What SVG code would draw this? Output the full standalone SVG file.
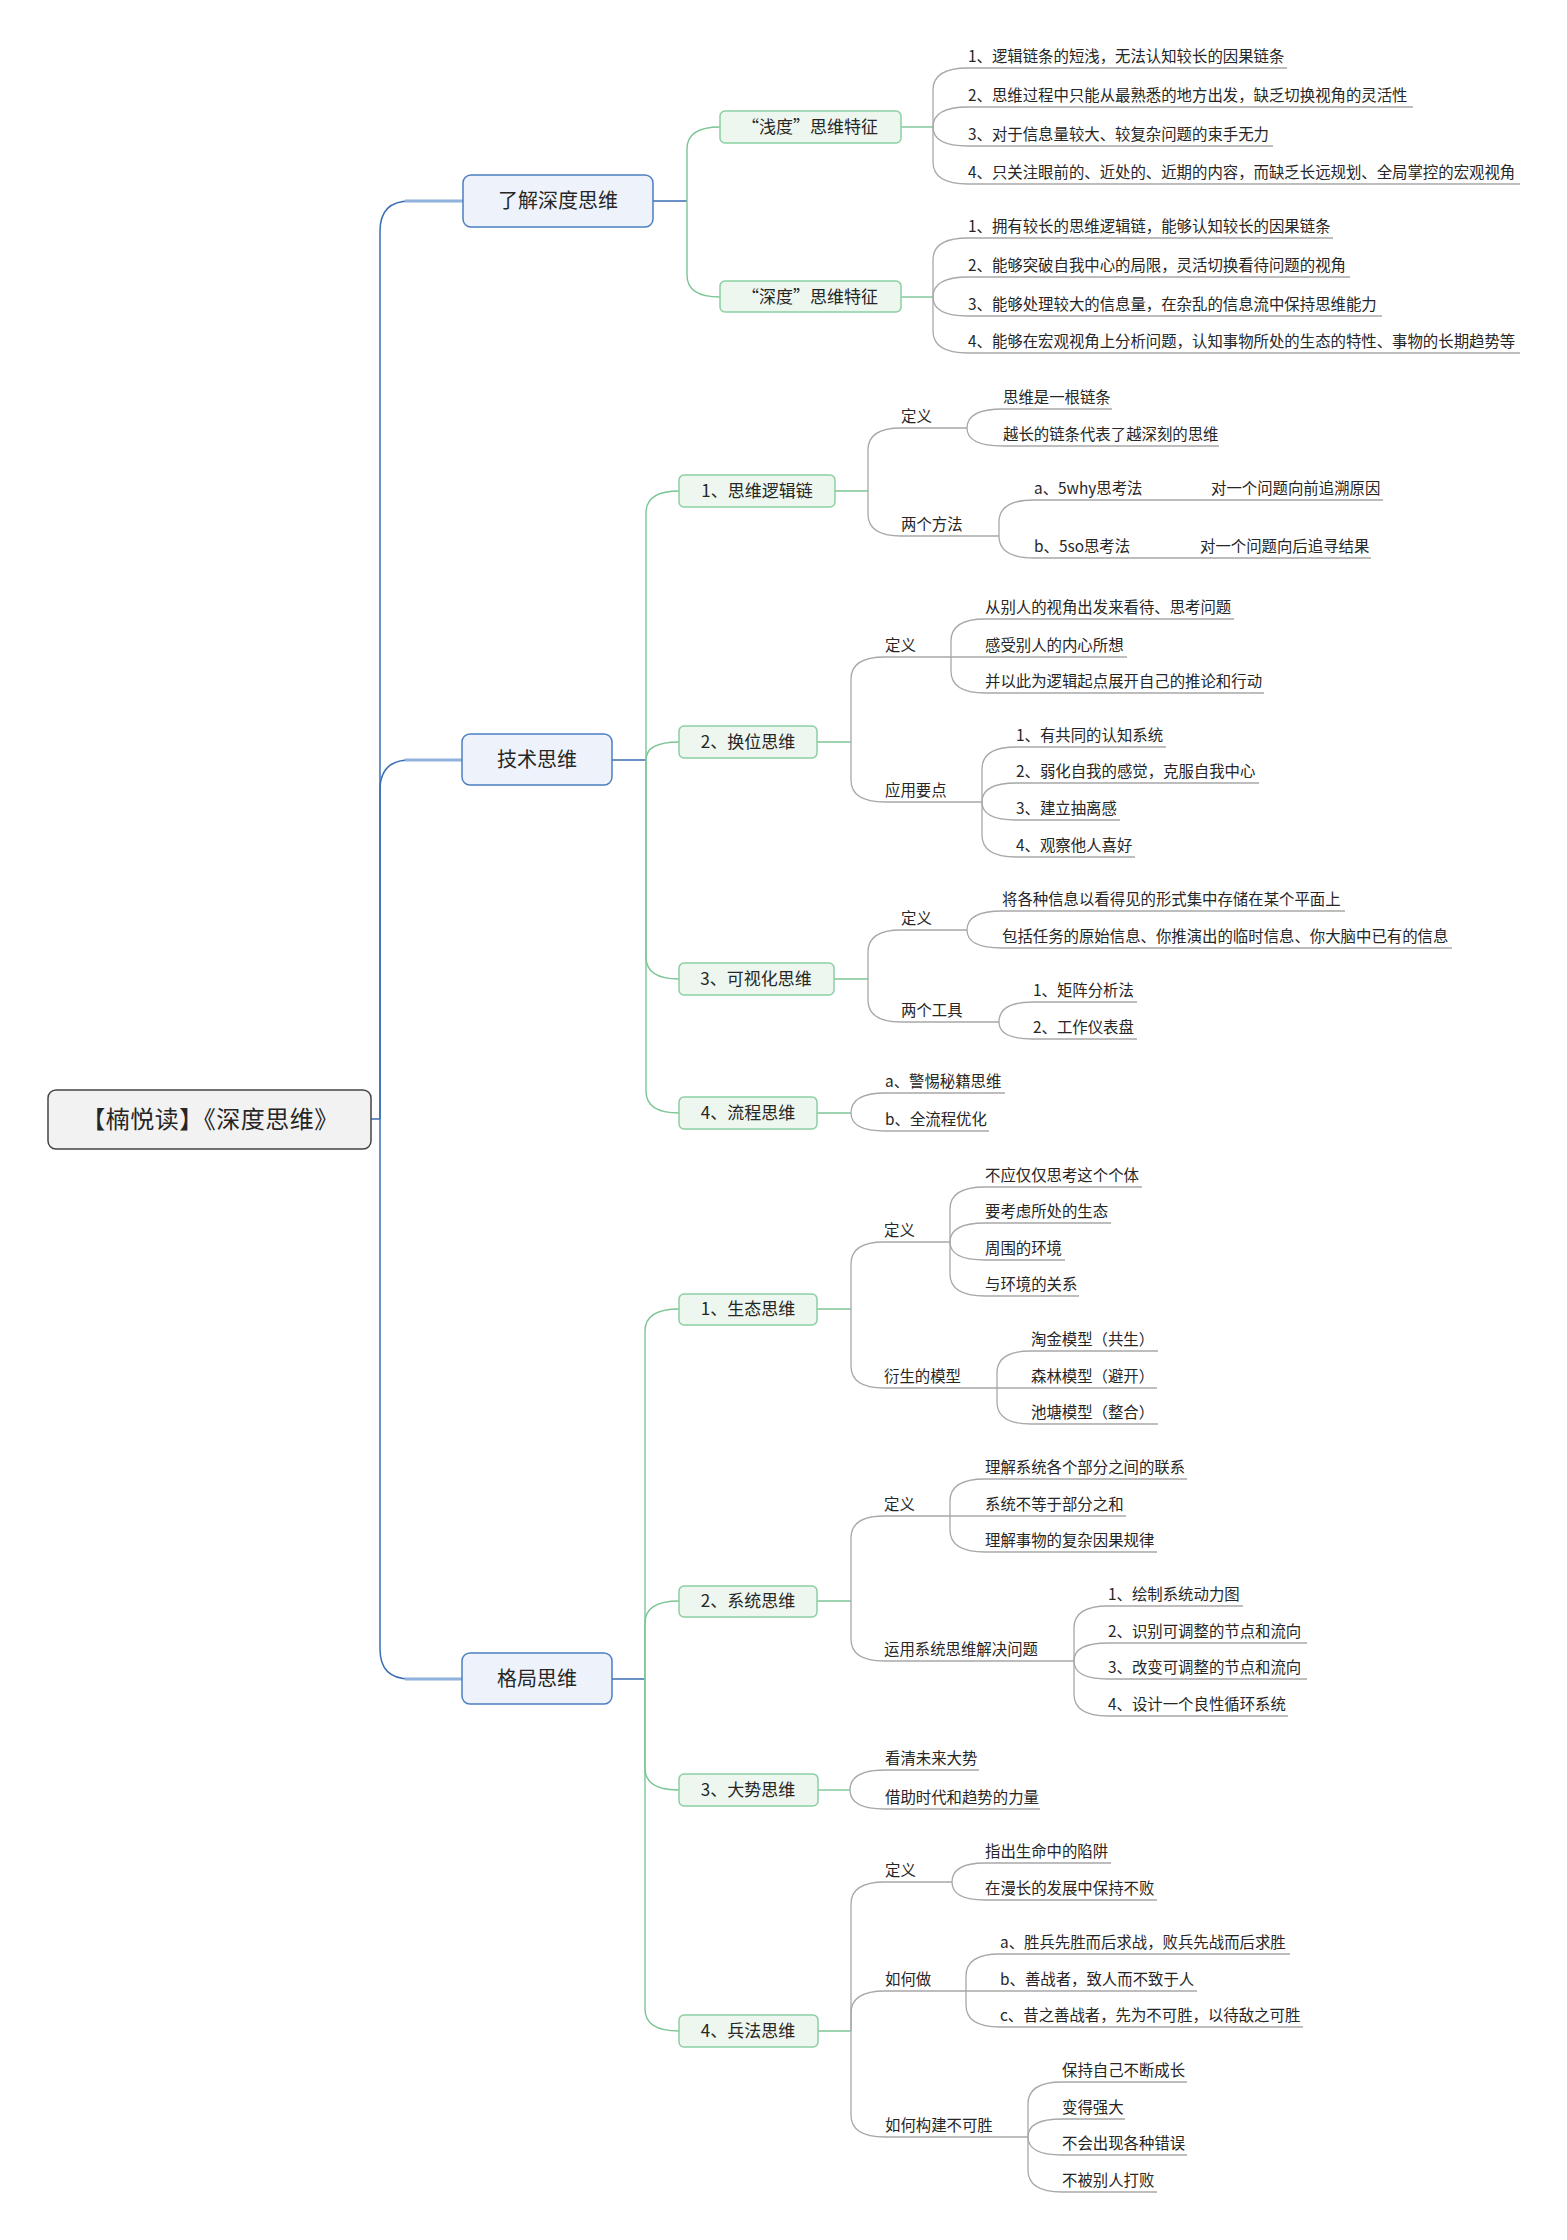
<svg xmlns="http://www.w3.org/2000/svg" width="1567" height="2240" viewBox="0 0 1567 2240">
<style>
text{font-family:"Noto Sans CJK SC","Noto Sans",sans-serif;fill:#262626}
.t0{font-size:24px;text-anchor:middle;letter-spacing:0.5px}
.t1{font-size:20px;text-anchor:middle}
.t2{font-size:17px;text-anchor:middle}
.t3{font-size:15.4px}
.root{fill:#f2f2f2;stroke:#444;stroke-width:1.5}
.l1{fill:#eef3fb;stroke:#4c7fc2;stroke-width:1.5}
.l2{fill:#edf6ef;stroke:#8ccfa2;stroke-width:1.5}
.cb{fill:none;stroke:#3b6db3;stroke-width:1.5}
.cbl{fill:none;stroke:#90b2dc;stroke-width:3}
.cg{fill:none;stroke:#7cc595;stroke-width:1.4}
.cy{fill:none;stroke:#a8a8a8;stroke-width:1.3}
</style>
<rect width="1567" height="2240" fill="#fff"/>
<g id="connectors">
<g class="cb">
<path d="M371,1119 H380"/>
<path d="M380,1119 V231 Q380,201 410,201 H463"/>
<path d="M380,1119 V790 Q380,760 410,760 H462"/>
<path d="M380,1119 V1649 Q380,1679 410,1679 H462"/>
<path d="M653,201 H687"/>
<path d="M612,760 H646"/>
<path d="M612,1679 H645"/>
</g>
<g class="cbl">
<path d="M405,201 H463"/>
<path d="M405,760 H462"/>
<path d="M405,1679 H462"/>
</g>
<g class="cg">
<path d="M687,201 V149 Q687,127 720,127"/>
<path d="M687,201 V275 Q687,297 720,297"/>
<path d="M901,127 H933"/>
<path d="M901,297 H933"/>
<path d="M646,760 V513 Q646,491 679,491"/>
<path d="M646,760 Q646,742 679,742"/>
<path d="M646,760 V957 Q646,979 679,979"/>
<path d="M646,760 V1091 Q646,1113 679,1113"/>
<path d="M835,491 H868"/>
<path d="M817,742 H851"/>
<path d="M834,979 H868"/>
<path d="M817,1113 H851"/>
<path d="M645,1679 V1331 Q645,1309 679,1309"/>
<path d="M645,1679 V1623 Q645,1601 679,1601"/>
<path d="M645,1679 V1768 Q645,1790 679,1790"/>
<path d="M645,1679 V2009 Q645,2031 679,2031"/>
<path d="M817,1309 H851"/>
<path d="M817,1601 H851"/>
<path d="M818,1790 H850"/>
<path d="M818,2031 H851"/>
</g>
<g class="cy">
<path d="M933,127 V90 Q933,68 968,68 H1287"/>
<path d="M933,127 Q933,107 968,107 H1413"/>
<path d="M933,127 Q933,146 968,146 H1273"/>
<path d="M933,127 V162 Q933,184 968,184 H1520"/>
<path d="M933,297 V260 Q933,238 968,238 H1333"/>
<path d="M933,297 Q933,277 968,277 H1350"/>
<path d="M933,297 Q933,316 968,316 H1382"/>
<path d="M933,297 V331 Q933,353 968,353 H1520"/>
<path d="M868,491 V450 Q868,428 901,428 H967"/>
<path d="M868,491 V514 Q868,536 901,536 H999"/>
<path d="M967,428 Q967,409 1003,409 H1112"/>
<path d="M967,428 Q967,446 1003,446 H1219"/>
<path d="M999,536 V522 Q999,500 1034,500 H1383"/>
<path d="M999,536 Q999,558 1034,558 H1371"/>
<path d="M851,742 V679 Q851,657 885,657 H951"/>
<path d="M851,742 V780 Q851,802 885,802 H982"/>
<path d="M951,657 V641 Q951,619 985,619 H1234"/>
<path d="M951,657 H1127"/>
<path d="M951,657 V671 Q951,693 985,693 H1264"/>
<path d="M982,802 V769 Q982,747 1016,747 H1166"/>
<path d="M982,802 Q982,783 1016,783 H1259"/>
<path d="M982,802 Q982,820 1016,820 H1120"/>
<path d="M982,802 V835 Q982,857 1016,857 H1135"/>
<path d="M868,979 V952 Q868,930 901,930 H967"/>
<path d="M868,979 V1000 Q868,1022 901,1022 H999"/>
<path d="M967,930 Q967,911 1002,911 H1345"/>
<path d="M967,930 Q967,948 1002,948 H1452"/>
<path d="M999,1022 Q999,1002 1033,1002 H1137"/>
<path d="M999,1022 Q999,1039 1033,1039 H1137"/>
<path d="M851,1113 Q851,1093 885,1093 H1005"/>
<path d="M851,1113 Q851,1131 885,1131 H989"/>
<path d="M851,1309 V1264 Q851,1242 884,1242 H950"/>
<path d="M851,1309 V1366 Q851,1388 884,1388 H997"/>
<path d="M950,1242 V1209 Q950,1187 985,1187 H1142"/>
<path d="M950,1242 Q950,1223 985,1223 H1111"/>
<path d="M950,1242 Q950,1260 985,1260 H1065"/>
<path d="M950,1242 V1274 Q950,1296 985,1296 H1079"/>
<path d="M997,1388 V1373 Q997,1351 1031,1351 H1158"/>
<path d="M997,1388 H1157"/>
<path d="M997,1388 V1402 Q997,1424 1031,1424 H1158"/>
<path d="M851,1601 V1538 Q851,1516 884,1516 H950"/>
<path d="M851,1601 V1639 Q851,1661 884,1661 H1074"/>
<path d="M950,1516 V1501 Q950,1479 985,1479 H1187"/>
<path d="M950,1516 H1126"/>
<path d="M950,1516 V1530 Q950,1552 985,1552 H1157"/>
<path d="M1074,1661 V1628 Q1074,1606 1108,1606 H1243"/>
<path d="M1074,1661 Q1074,1643 1108,1643 H1307"/>
<path d="M1074,1661 Q1074,1679 1108,1679 H1307"/>
<path d="M1074,1661 V1694 Q1074,1716 1108,1716 H1288"/>
<path d="M850,1790 Q850,1770 885,1770 H979"/>
<path d="M850,1790 Q850,1809 885,1809 H1040"/>
<path d="M851,2031 V1904 Q851,1882 885,1882 H952"/>
<path d="M851,2031 V2013 Q851,1991 885,1991 H966"/>
<path d="M851,2031 V2115 Q851,2137 885,2137 H1028"/>
<path d="M952,1882 Q952,1863 985,1863 H1111"/>
<path d="M952,1882 Q952,1900 985,1900 H1157"/>
<path d="M966,1991 V1976 Q966,1954 1000,1954 H1290"/>
<path d="M966,1991 H1197"/>
<path d="M966,1991 V2005 Q966,2027 1000,2027 H1303"/>
<path d="M1028,2137 V2104 Q1028,2082 1062,2082 H1187"/>
<path d="M1028,2137 Q1028,2119 1062,2119 H1125"/>
<path d="M1028,2137 Q1028,2155 1062,2155 H1187"/>
<path d="M1028,2137 V2170 Q1028,2192 1062,2192 H1157"/>
</g>
</g>

<g id="root"><rect class="root" x="48" y="1090" width="323" height="59" rx="8"/><text class="t0" x="210" y="1128">【楠悦读】《深度思维》</text></g>

<g id="n-a"><rect class="l1" x="463" y="175" width="190" height="52" rx="8"/><text class="t1" x="558" y="208">了解深度思维</text></g>
<g id="n-b"><rect class="l1" x="462" y="734" width="150" height="51" rx="8"/><text class="t1" x="537" y="767">技术思维</text></g>
<g id="n-c"><rect class="l1" x="462" y="1653" width="150" height="51" rx="8"/><text class="t1" x="537" y="1686">格局思维</text></g>

<g id="n-a1"><rect class="l2" x="720" y="111" width="181" height="32" rx="5"/><text class="t2" x="810" y="133">“浅度”思维特征</text></g>
<g id="n-a2"><rect class="l2" x="720" y="281" width="181" height="31" rx="5"/><text class="t2" x="810" y="303">“深度”思维特征</text></g>
<g id="n-b1"><rect class="l2" x="679" y="475" width="156" height="32" rx="5"/><text class="t2" x="757" y="497">1、思维逻辑链</text></g>
<g id="n-b2"><rect class="l2" x="679" y="726" width="138" height="32" rx="5"/><text class="t2" x="748" y="748">2、换位思维</text></g>
<g id="n-b3"><rect class="l2" x="679" y="963" width="155" height="32" rx="5"/><text class="t2" x="756" y="985">3、可视化思维</text></g>
<g id="n-b4"><rect class="l2" x="679" y="1097" width="138" height="32" rx="5"/><text class="t2" x="748" y="1119">4、流程思维</text></g>
<g id="n-c1"><rect class="l2" x="679" y="1294" width="138" height="31" rx="5"/><text class="t2" x="748" y="1315">1、生态思维</text></g>
<g id="n-c2"><rect class="l2" x="679" y="1586" width="138" height="31" rx="5"/><text class="t2" x="748" y="1607">2、系统思维</text></g>
<g id="n-c3"><rect class="l2" x="679" y="1774" width="139" height="32" rx="5"/><text class="t2" x="748" y="1796">3、大势思维</text></g>
<g id="n-c4"><rect class="l2" x="679" y="2015" width="139" height="32" rx="5"/><text class="t2" x="748" y="2037">4、兵法思维</text></g>

<g id="leaves" class="t3">
<g id="a1-1"><text class="t3" x="968" y="62">1、逻辑链条的短浅，无法认知较长的因果链条</text></g>
<g id="a1-2"><text class="t3" x="968" y="101">2、思维过程中只能从最熟悉的地方出发，缺乏切换视角的灵活性</text></g>
<g id="a1-3"><text class="t3" x="968" y="140">3、对于信息量较大、较复杂问题的束手无力</text></g>
<g id="a1-4"><text class="t3" x="968" y="178">4、只关注眼前的、近处的、近期的内容，而缺乏长远规划、全局掌控的宏观视角</text></g>
<g id="a2-1"><text class="t3" x="968" y="232">1、拥有较长的思维逻辑链，能够认知较长的因果链条</text></g>
<g id="a2-2"><text class="t3" x="968" y="271">2、能够突破自我中心的局限，灵活切换看待问题的视角</text></g>
<g id="a2-3"><text class="t3" x="968" y="310">3、能够处理较大的信息量，在杂乱的信息流中保持思维能力</text></g>
<g id="a2-4"><text class="t3" x="968" y="347">4、能够在宏观视角上分析问题，认知事物所处的生态的特性、事物的长期趋势等</text></g>

<g id="b1-def"><text class="t3" x="901" y="422">定义</text></g>
<g id="b1-def1"><text class="t3" x="1003" y="403">思维是一根链条</text></g>
<g id="b1-def2"><text class="t3" x="1003" y="440">越长的链条代表了越深刻的思维</text></g>
<g id="b1-m"><text class="t3" x="901" y="530">两个方法</text></g>
<g id="b1-m1"><text class="t3" x="1034" y="494">a、5why思考法</text></g>
<g id="b1-m1a"><text class="t3" x="1211" y="494">对一个问题向前追溯原因</text></g>
<g id="b1-m2"><text class="t3" x="1034" y="552">b、5so思考法</text></g>
<g id="b1-m2a"><text class="t3" x="1200" y="552">对一个问题向后追寻结果</text></g>

<g id="b2-def"><text class="t3" x="885" y="651">定义</text></g>
<g id="b2-def1"><text class="t3" x="985" y="613">从别人的视角出发来看待、思考问题</text></g>
<g id="b2-def2"><text class="t3" x="985" y="651">感受别人的内心所想</text></g>
<g id="b2-def3"><text class="t3" x="985" y="687">并以此为逻辑起点展开自己的推论和行动</text></g>
<g id="b2-app"><text class="t3" x="885" y="796">应用要点</text></g>
<g id="b2-app1"><text class="t3" x="1016" y="741">1、有共同的认知系统</text></g>
<g id="b2-app2"><text class="t3" x="1016" y="777">2、弱化自我的感觉，克服自我中心</text></g>
<g id="b2-app3"><text class="t3" x="1016" y="814">3、建立抽离感</text></g>
<g id="b2-app4"><text class="t3" x="1016" y="851">4、观察他人喜好</text></g>

<g id="b3-def"><text class="t3" x="901" y="924">定义</text></g>
<g id="b3-def1"><text class="t3" x="1002" y="905">将各种信息以看得见的形式集中存储在某个平面上</text></g>
<g id="b3-def2"><text class="t3" x="1002" y="942">包括任务的原始信息、你推演出的临时信息、你大脑中已有的信息</text></g>
<g id="b3-tool"><text class="t3" x="901" y="1016">两个工具</text></g>
<g id="b3-tool1"><text class="t3" x="1033" y="996">1、矩阵分析法</text></g>
<g id="b3-tool2"><text class="t3" x="1033" y="1033">2、工作仪表盘</text></g>

<g id="b4-1"><text class="t3" x="885" y="1087">a、警惕秘籍思维</text></g>
<g id="b4-2"><text class="t3" x="885" y="1125">b、全流程优化</text></g>

<g id="c1-def"><text class="t3" x="884" y="1236">定义</text></g>
<g id="c1-def1"><text class="t3" x="985" y="1181">不应仅仅思考这个个体</text></g>
<g id="c1-def2"><text class="t3" x="985" y="1217">要考虑所处的生态</text></g>
<g id="c1-def3"><text class="t3" x="985" y="1254">周围的环境</text></g>
<g id="c1-def4"><text class="t3" x="985" y="1290">与环境的关系</text></g>
<g id="c1-mod"><text class="t3" x="884" y="1382">衍生的模型</text></g>
<g id="c1-mod1"><text class="t3" x="1031" y="1345">淘金模型（共生）</text></g>
<g id="c1-mod2"><text class="t3" x="1031" y="1382">森林模型（避开）</text></g>
<g id="c1-mod3"><text class="t3" x="1031" y="1418">池塘模型（整合）</text></g>

<g id="c2-def"><text class="t3" x="884" y="1510">定义</text></g>
<g id="c2-def1"><text class="t3" x="985" y="1473">理解系统各个部分之间的联系</text></g>
<g id="c2-def2"><text class="t3" x="985" y="1510">系统不等于部分之和</text></g>
<g id="c2-def3"><text class="t3" x="985" y="1546">理解事物的复杂因果规律</text></g>
<g id="c2-use"><text class="t3" x="884" y="1655">运用系统思维解决问题</text></g>
<g id="c2-use1"><text class="t3" x="1108" y="1600">1、绘制系统动力图</text></g>
<g id="c2-use2"><text class="t3" x="1108" y="1637">2、识别可调整的节点和流向</text></g>
<g id="c2-use3"><text class="t3" x="1108" y="1673">3、改变可调整的节点和流向</text></g>
<g id="c2-use4"><text class="t3" x="1108" y="1710">4、设计一个良性循环系统</text></g>

<g id="c3-1"><text class="t3" x="885" y="1764">看清未来大势</text></g>
<g id="c3-2"><text class="t3" x="885" y="1803">借助时代和趋势的力量</text></g>

<g id="c4-def"><text class="t3" x="885" y="1876">定义</text></g>
<g id="c4-def1"><text class="t3" x="985" y="1857">指出生命中的陷阱</text></g>
<g id="c4-def2"><text class="t3" x="985" y="1894">在漫长的发展中保持不败</text></g>
<g id="c4-how"><text class="t3" x="885" y="1985">如何做</text></g>
<g id="c4-how1"><text class="t3" x="1000" y="1948">a、胜兵先胜而后求战，败兵先战而后求胜</text></g>
<g id="c4-how2"><text class="t3" x="1000" y="1985">b、善战者，致人而不致于人</text></g>
<g id="c4-how3"><text class="t3" x="1000" y="2021">c、昔之善战者，先为不可胜，以待敌之可胜</text></g>
<g id="c4-build"><text class="t3" x="885" y="2131">如何构建不可胜</text></g>
<g id="c4-build1"><text class="t3" x="1062" y="2076">保持自己不断成长</text></g>
<g id="c4-build2"><text class="t3" x="1062" y="2113">变得强大</text></g>
<g id="c4-build3"><text class="t3" x="1062" y="2149">不会出现各种错误</text></g>
<g id="c4-build4"><text class="t3" x="1062" y="2186">不被别人打败</text></g>
</g>
</svg>
